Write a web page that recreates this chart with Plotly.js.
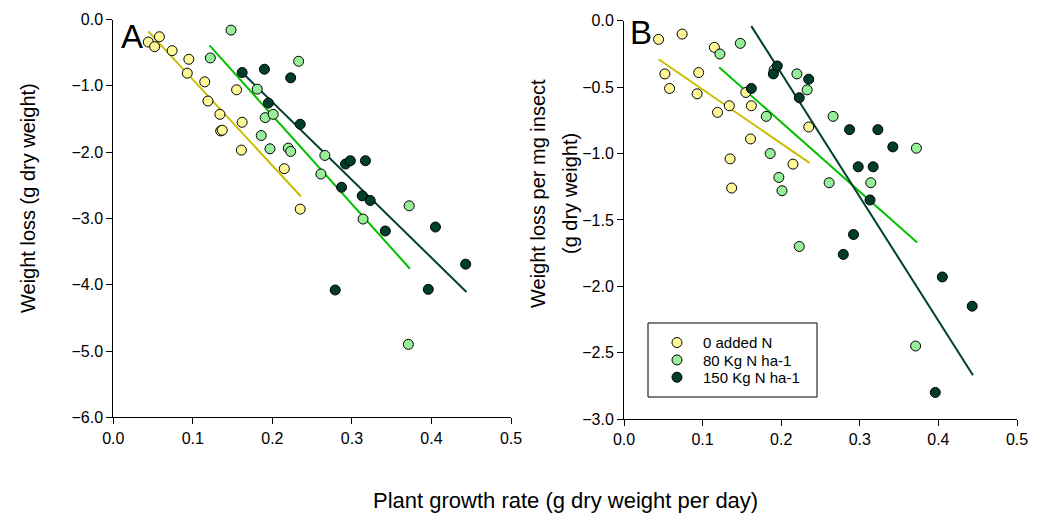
<!DOCTYPE html>
<html>
<head>
<meta charset="utf-8">
<script src="https://cdn.plot.ly/plotly-3.0.1.min.js"></script>
<style>html,body{margin:0;padding:0;background:#fff;}#chart{width:1040px;height:517px;}</style>
</head>
<body>
<div id="chart"></div>
<script>
// ---- Data ----
var groups = ['0 added N', '80 Kg N ha-1', '150 Kg N ha-1'];

// 0 added N
var x0  = [0.044, 0.052, 0.058, 0.074, 0.095, 0.093, 0.115, 0.119, 0.134, 0.155, 0.135, 0.137, 0.162, 0.161, 0.215, 0.235];
var yA0 = [-0.34, -0.41, -0.26, -0.47, -0.60, -0.81, -0.94, -1.23, -1.43, -1.06, -1.68, -1.67, -1.55, -1.97, -2.25, -2.86];
var yB0 = [-0.14, -0.40, -0.51, -0.10, -0.39, -0.55, -0.20, -0.69, -0.64, -0.54, -1.04, -1.26, -0.64, -0.89, -1.08, -0.80];

// 80 Kg N ha-1
var x80  = [0.148, 0.122, 0.233, 0.181, 0.191, 0.201, 0.186, 0.197, 0.220, 0.223, 0.266, 0.261, 0.372, 0.314, 0.371];
var yA80 = [-0.16, -0.58, -0.63, -1.05, -1.48, -1.43, -1.75, -1.95, -1.94, -1.99, -2.05, -2.33, -2.81, -3.01, -4.90];
var yB80 = [-0.17, -0.25, -0.52, -0.72, -0.37, -1.28, -1.00, -1.18, -0.40, -1.70, -0.72, -1.22, -0.96, -1.22, -2.45];

// 150 Kg N ha-1
var x150  = [0.162, 0.190, 0.195, 0.223, 0.235, 0.292, 0.298, 0.317, 0.287, 0.313, 0.323, 0.342, 0.405, 0.443, 0.279, 0.396];
var yA150 = [-0.80, -0.75, -1.26, -0.88, -1.58, -2.18, -2.13, -2.13, -2.53, -2.66, -2.73, -3.19, -3.13, -3.69, -4.08, -4.07];
var yB150 = [-0.51, -0.40, -0.34, -0.58, -0.44, -1.61, -1.10, -1.10, -0.82, -1.35, -0.82, -0.95, -1.93, -2.15, -1.76, -2.80];

// Regression line end points (x start/end, y start/end)
var fitX0   = [0.044, 0.236];
var fitA0   = [-0.18, -2.67];
var fitB0   = [-0.29, -1.07];
var fitX80  = [0.121, 0.373];
var fitA80  = [-0.39, -3.76];
var fitB80  = [-0.35, -1.67];
var fitX150 = [0.162, 0.444];
var fitA150 = [-0.80, -4.11];
var fitB150 = [-0.04, -2.67];

var xTickVals = [0, 0.1, 0.2, 0.3, 0.4, 0.5];
var yTickValsA = [0, -1, -2, -3, -4, -5, -6];
var yTickValsB = [0, -0.5, -1, -1.5, -2, -2.5, -3];

// ---- Styles ----
var fills = ['#FFF899', '#99EE99', '#003D2B'];
var lineCols = ['#C8BE00', '#00C000', '#00402F'];
var legendIds = ['legend', 'legend2', 'legend3'];
var FONT = 'Liberation Sans, Arial, sans-serif';

function pts(x, y, i, xa, ya, show) {
  return {x: x, y: y, xaxis: xa, yaxis: ya, type: 'scatter', mode: 'markers',
    name: groups[i], showlegend: show, legend: legendIds[i],
    marker: {size: 10, color: fills[i], line: {color: '#000', width: 1}}};
}
function fit(x, y, i, xa, ya) {
  return {x: x, y: y, xaxis: xa, yaxis: ya, type: 'scatter', mode: 'lines',
    showlegend: false, hoverinfo: 'skip', line: {color: lineCols[i], width: 2}};
}

var data = [
  fit(fitX0, fitA0, 0, 'x', 'y'), fit(fitX80, fitA80, 1, 'x', 'y'), fit(fitX150, fitA150, 2, 'x', 'y'),
  pts(x0, yA0, 0, 'x', 'y', false), pts(x80, yA80, 1, 'x', 'y', false), pts(x150, yA150, 2, 'x', 'y', false),
  fit(fitX0, fitB0, 0, 'x2', 'y2'), fit(fitX80, fitB80, 1, 'x2', 'y2'), fit(fitX150, fitB150, 2, 'x2', 'y2'),
  pts(x0, yB0, 0, 'x2', 'y2', true), pts(x80, yB80, 1, 'x2', 'y2', true), pts(x150, yB150, 2, 'x2', 'y2', true)
];

function xAxis(dom, anchor) {
  return {domain: dom, anchor: anchor, range: [0, 0.5], tickvals: xTickVals, tickformat: '.1f',
    showgrid: false, zeroline: false, showline: true, linecolor: '#000', linewidth: 1,
    ticks: 'outside', ticklen: 6, tickcolor: '#000', tickfont: {family: FONT, size: 16, color: '#000'}};
}
function yAxis(dom, anchor, range, vals) {
  return {domain: dom, anchor: anchor, range: range, tickvals: vals, tickformat: '.1f',
    showgrid: false, zeroline: false, showline: true, linecolor: '#000', linewidth: 1,
    ticks: 'outside', ticklen: 6, tickcolor: '#000', tickfont: {family: FONT, size: 16, color: '#000'}};
}

var W = 1040, H = 517;
function leg(rowY) {
  return {x: 651 / W, y: 1 - (rowY - 16) / H, xanchor: 'left', yanchor: 'top',
    bgcolor: 'rgba(0,0,0,0)', borderwidth: 0, font: {family: FONT, size: 15, color: '#000'},
    itemwidth: 42, itemclick: false};
}
var layout = {
  width: W, height: H,
  margin: {l: 0, r: 0, t: 0, b: 0},
  paper_bgcolor: '#fff', plot_bgcolor: 'rgba(0,0,0,0)',
  font: {family: FONT, color: '#000'},
  xaxis: xAxis([113.3 / W, 511 / W], 'y'),
  yaxis: yAxis([1 - 417.3 / H, 1 - 19.5 / H], 'x', [-6, 0], yTickValsA),
  xaxis2: xAxis([624 / W, 1017 / W], 'y2'),
  yaxis2: yAxis([1 - 419 / H, 1 - 20.8 / H], 'x2', [-3, 0], yTickValsB),
  showlegend: true,
  legend: leg(342.3),
  legend2: leg(359.7),
  legend3: leg(377),
  shapes: [
    {type: 'rect', xref: 'paper', yref: 'paper', x0: 648 / W, x1: 817 / W, y0: 1 - 397 / H, y1: 1 - 323 / H,
     line: {color: '#000', width: 1}, fillcolor: 'rgba(0,0,0,0)'}
  ],
  annotations: [
    {text: 'A', xref: 'paper', yref: 'paper', x: 132 / W, y: 1 - 36 / H, showarrow: false,
     xanchor: 'center', yanchor: 'middle', font: {family: FONT, size: 33, color: '#000'}},
    {text: 'B', xref: 'paper', yref: 'paper', x: 641 / W, y: 1 - 33 / H, showarrow: false,
     xanchor: 'center', yanchor: 'middle', font: {family: FONT, size: 33, color: '#000'}},
    {text: 'Weight loss (g dry weight)', xref: 'paper', yref: 'paper', x: 28 / W, y: 1 - 198 / H,
     textangle: -90, showarrow: false, xanchor: 'center', yanchor: 'middle',
     font: {family: FONT, size: 20, color: '#000'}},
    {text: 'Weight loss per mg insect', xref: 'paper', yref: 'paper', x: 538 / W, y: 1 - 194 / H,
     textangle: -90, showarrow: false, xanchor: 'center', yanchor: 'middle',
     font: {family: FONT, size: 20, color: '#000'}},
    {text: '(g dry weight)', xref: 'paper', yref: 'paper', x: 570 / W, y: 1 - 194 / H,
     textangle: -90, showarrow: false, xanchor: 'center', yanchor: 'middle',
     font: {family: FONT, size: 20, color: '#000'}},
    {text: 'Plant growth rate (g dry weight per day)', xref: 'paper', yref: 'paper', x: 565 / W, y: 1 - 500 / H,
     showarrow: false, xanchor: 'center', yanchor: 'middle',
     font: {family: FONT, size: 22, color: '#000'}}
  ]
};

Plotly.newPlot('chart', data, layout, {staticPlot: true, displayModeBar: false});
</script>
</body>
</html>
